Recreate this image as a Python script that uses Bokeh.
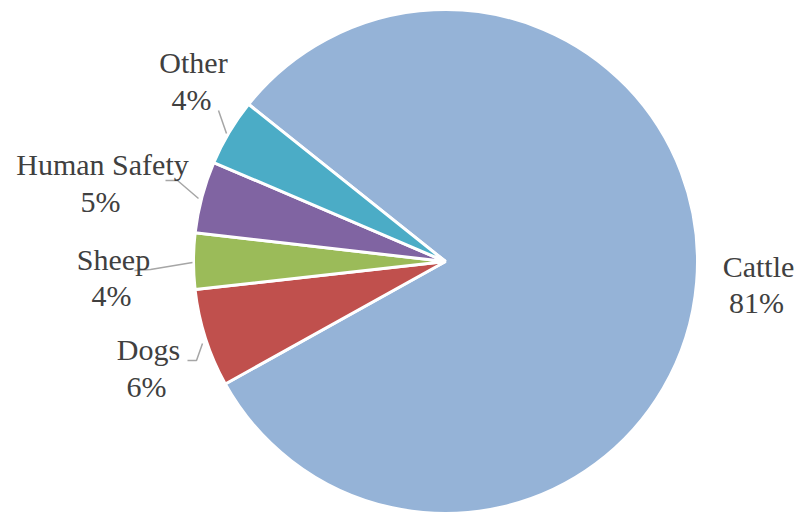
import math
from bokeh.plotting import figure
from bokeh.models import Range1d, ColumnDataSource, Label
from bokeh.embed import file_html
from bokeh.resources import INLINE

# ---- data ----
categories = ["Cattle", "Dogs", "Sheep", "Human Safety", "Other"]
shares = [81.2, 6.3, 3.6, 4.6, 4.3]
colors = ["#95B3D7", "#C0504D", "#9BBB59", "#8064A2", "#4BACC6"]

# ---- layout (pixel coords, y measured from top; label y = text middle) ----
W, H = 799, 513
CX, CY, R = 445, 261, 252
START_DEG = 141.4
name_pos = [(758, 266), (148, 349), (113, 259), (102, 164), (193, 62)]
pct_pos = [(756, 302), (146, 386), (111, 295), (100, 201), (191, 99)]
leaders = [
    None,
    [(187, 360), (196, 360), (202, 343)],
    [(134, 270), (150, 269), (192, 262)],
    [(165, 180), (177, 180), (198, 198)],
    [(218, 110), (226, 133)],
]

total = sum(shares)
starts, ends = [], []
acc = 0.0
for v in shares:
    s = START_DEG - acc / total * 360.0
    e = s - v / total * 360.0
    starts.append(math.radians(s))
    ends.append(math.radians(e))
    acc += v

p = figure(width=W, height=H, output_backend="svg", toolbar_location=None,
           x_range=Range1d(0, W), y_range=Range1d(0, H), min_border=0)
p.axis.visible = False
p.grid.visible = False
p.outline_line_color = None
p.background_fill_color = "white"
p.border_fill_color = "white"

src = ColumnDataSource(dict(start=starts, end=ends, color=colors, cat=categories))
p.wedge(x=CX, y=H - CY, radius=R, start_angle="start", end_angle="end",
        direction="clock", fill_color="color", line_color="white", line_width=3,
        source=src)

# leader lines
xs, ys = [], []
for pts in leaders:
    if pts:
        xs.append([q[0] for q in pts])
        ys.append([H - q[1] for q in pts])
p.multi_line(xs=xs, ys=ys, line_color="#A6A6A6", line_width=1.5)

pct_labels = [f"{round(v / total * 100)}%" for v in shares]
for cat, pct, npos, ppos in zip(categories, pct_labels, name_pos, pct_pos):
    for txt, (lx, ly) in ((cat, npos), (pct, ppos)):
        p.add_layout(Label(x=lx, y=H - ly, text=txt, text_font="Liberation Serif",
                           text_font_size="30px", text_color="#404040",
                           text_align="center", text_baseline="middle"))

open("out.html", "w").write(file_html(p, INLINE))
